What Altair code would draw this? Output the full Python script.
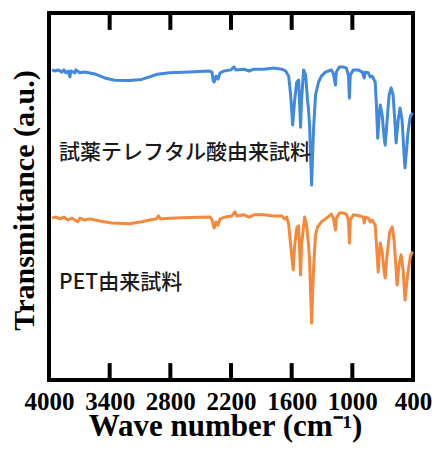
import altair as alt
import pandas as pd

# FT-IR spectra, offset vertically (transmittance in arbitrary units)
series_names = ["試薬テレフタル酸由来試料", "PET由来試料"]
series_colors = ["#4189dd", "#f5883a"]

wn_reagent = [3970, 3941, 3911, 3872, 3852, 3833, 3813, 3793, 3784, 3744, 3734, 3695, 3646,
              3548, 3449, 3351, 3203, 3085, 3007, 2928, 2908, 2810, 2613, 2416, 2387, 2377,
              2367, 2347, 2328, 2308, 2269, 2200, 2170, 2151, 2072, 2023, 1974, 1876, 1777,
              1698, 1659, 1630, 1610, 1590, 1570, 1550, 1531, 1512, 1502, 1482, 1462, 1443,
              1433, 1423, 1403, 1384, 1364, 1334, 1305, 1266, 1236, 1207, 1187, 1167, 1158,
              1128, 1089, 1059, 1039, 1029, 1020, 990, 941, 902, 882, 872, 843, 823, 803,
              774, 764, 749, 734, 724, 705, 685, 675, 656, 636, 616, 597, 577, 567, 547,
              528, 508, 488, 479, 464, 449, 429, 420, 405]
t_reagent = [84.5, 84.2, 84.5, 83.9, 84.5, 83.7, 84.2, 82.6, 84.2, 83.7, 84.5, 83.7, 83.9,
             83.4, 82.3, 81.7, 81.6, 81.9, 82.6, 83.3, 83.4, 83.7, 83.9, 84.2, 83.9, 81.7,
             81.2, 82.8, 82.0, 83.7, 84.2, 84.5, 85.3, 84.5, 84.7, 84.2, 84.7, 84.7, 85.0,
             84.7, 84.2, 82.8, 77.7, 69.5, 76.3, 81.2, 81.7, 68.9, 76.3, 84.5, 83.1, 76.3,
             73.6, 69.5, 53.1, 68.1, 77.7, 81.2, 82.8, 83.9, 84.2, 84.5, 83.4, 80.4, 83.9,
             85.3, 85.3, 85.0, 83.1, 76.8, 83.1, 84.5, 84.5, 83.9, 82.3, 83.9, 83.7, 82.6,
             82.8, 81.2, 76.3, 65.9, 72.2, 74.9, 72.2, 65.9, 64.0, 70.8, 77.7, 79.6, 77.7,
             69.5, 64.6, 70.8, 74.1, 70.8, 61.3, 57.8, 62.7, 67.6, 71.4, 72.2, 72.8]

wn_pet = [3970, 3931, 3892, 3852, 3813, 3774, 3715, 3695, 3646, 3597, 3498, 3380, 3203,
          3085, 3007, 2938, 2918, 2898, 2810, 2613, 2406, 2387, 2367, 2347, 2328, 2308,
          2259, 2190, 2161, 2141, 2072, 2023, 1974, 1876, 1777, 1698, 1669, 1649, 1630,
          1610, 1585, 1570, 1550, 1531, 1512, 1502, 1472, 1452, 1433, 1423, 1403, 1384,
          1364, 1344, 1305, 1256, 1207, 1187, 1167, 1158, 1128, 1089, 1059, 1039, 1029,
          1020, 990, 921, 892, 882, 872, 843, 823, 803, 774, 764, 744, 734, 724, 705,
          685, 675, 656, 631, 606, 587, 567, 557, 538, 518, 498, 479, 464, 449, 429,
          420, 405]
t_pet = [44.1, 44.4, 43.9, 44.4, 43.6, 44.1, 43.1, 44.1, 43.6, 43.9, 43.3, 42.8, 42.6,
         43.1, 43.6, 43.9, 44.7, 43.9, 44.1, 44.3, 44.4, 43.6, 41.4, 43.1, 42.2, 43.9,
         44.4, 44.7, 45.8, 44.7, 45.0, 44.4, 45.0, 45.0, 44.7, 44.7, 43.9, 44.4, 42.5,
         36.8, 30.0, 36.8, 41.4, 42.0, 28.6, 36.8, 44.4, 42.2, 36.8, 32.7, 15.5, 30.0,
         39.5, 41.7, 43.1, 44.1, 45.2, 44.1, 40.9, 44.1, 45.5, 45.5, 45.2, 43.6, 37.3,
         43.6, 45.0, 44.7, 44.4, 42.8, 44.4, 44.1, 43.1, 43.6, 42.2, 38.1, 29.4, 34.1,
         37.3, 34.9, 29.4, 27.8, 34.1, 40.3, 41.7, 38.1, 30.0, 25.9, 31.3, 34.1, 30.0,
         21.8, 25.9, 29.4, 33.2, 34.1, 35.0]

x_tick_labels = [4000, 3400, 2800, 2200, 1600, 1000, 400]
inner_ticks = [3400, 2800, 2200, 1600, 1000]

# Label placement for each spectrum (wavenumber, transmittance)
label_wn = [3900, 3900]
label_t = [61.9, 26.4]

W, H = 364, 367
Y_MIN, Y_MAX = 0, 100
TICK_LEN = 4.6  # inward tick length in transmittance units
SERIF = "Liberation Serif"

spectra = pd.concat([
    pd.DataFrame({"wn": wn_reagent, "t": t_reagent, "sample": series_names[0]}),
    pd.DataFrame({"wn": wn_pet, "t": t_pet, "sample": series_names[1]}),
])
labels = pd.DataFrame({"wn": label_wn, "t": label_t, "text": series_names})
tick_df = pd.DataFrame({"tick_wn": inner_ticks})

x_scale = alt.Scale(domain=[400, 4000], reverse=True, nice=False, zero=False)
y_scale = alt.Scale(domain=[Y_MIN, Y_MAX], nice=False, zero=False)

x_enc = alt.X(
    "wn:Q", scale=x_scale,
    axis=alt.Axis(
        values=x_tick_labels, format="d", ticks=False, domain=False, grid=False,
        labelFont=SERIF, labelFontWeight="bold", labelFontSize=25, labelColor="black",
        labelPadding=9, labelOverlap=False, labelFlush=False,
        title="Wave number (cm⁻¹)", titleFont=SERIF, titleFontWeight="bold",
        titleFontSize=31, titleColor="black", titleX=176, titleY=55,
        titleBaseline="alphabetic", titleAlign="center",
    ),
)
y_enc = alt.Y(
    "t:Q", scale=y_scale,
    axis=alt.Axis(
        labels=False, ticks=False, domain=False, grid=False,
        title="Transmittance (a.u.)", titleFont=SERIF, titleFontWeight="bold",
        titleFontSize=30, titleColor="black", titleX=-16, titleY=187,
        titleBaseline="alphabetic", titleAlign="center", titleAngle=270,
    ),
)

lines = alt.Chart(spectra).mark_line(strokeWidth=3, strokeJoin="round", clip=False).encode(
    x=x_enc,
    y=y_enc,
    color=alt.Color("sample:N", scale=alt.Scale(domain=series_names, range=series_colors),
                    legend=None),
    detail="sample:N",
)

texts = alt.Chart(labels).mark_text(
    align="left", baseline="middle", font="Noto Sans CJK JP", fontSize=21,
    fontWeight=500, color="#1a1a1a", clip=False
).encode(x=alt.X("wn:Q", scale=x_scale), y=alt.Y("t:Q", scale=y_scale), text="text:N")


def edge_ticks(start, end):
    """Short inward tick segments on one edge of the frame."""
    return (
        alt.Chart(tick_df)
        .transform_calculate(t0=str(start), t1=str(end))
        .mark_rule(stroke="black", strokeWidth=4, clip=False)
        .encode(
            x=alt.X("tick_wn:Q", scale=x_scale),
            y=alt.Y("t0:Q", scale=y_scale),
            y2="t1:Q",
        )
    )


top_ticks = edge_ticks(Y_MAX, Y_MAX - TICK_LEN)
bottom_ticks = edge_ticks(Y_MIN, Y_MIN + TICK_LEN)

chart = (
    alt.layer(lines, texts, top_ticks, bottom_ticks)
    .properties(
        width=W, height=H,
        autosize=alt.AutoSizeParams(type="none"),
        padding={"left": 49, "top": 13, "right": 25, "bottom": 75},
        background="white",
    )
    .configure_view(stroke="black", strokeWidth=4)
)

chart.save("out.html", embed_options={"renderer": "svg", "actions": False})
